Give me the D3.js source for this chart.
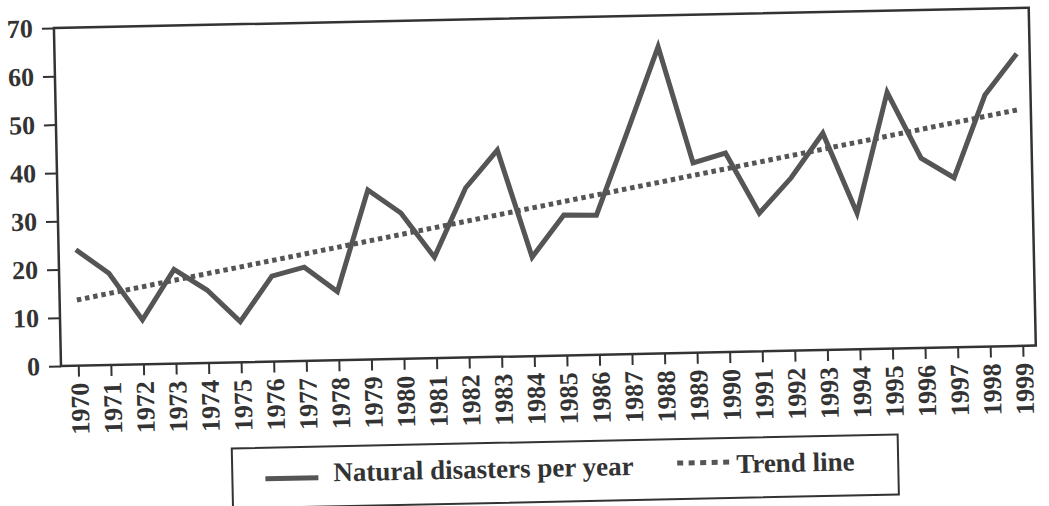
<html>
    <head>
        <title>Natural disasters per year</title>
        <script src="https://d3js.org/d3.v7.min.js"></script>
        <style>
        body { margin: 0; background: white; }
        .axis text {
            font-family: "Liberation Serif", "Times New Roman", serif;
            font-weight: bold;
            font-size: 26px;
            fill: #333;
        }
        .axis line { stroke: #333; stroke-width: 2; }
        .axis .domain { display: none; }
        </style>
    </head>
    <body>
        <svg id="chart" width="1049" height="506"></svg>

        <script>
            // data
            const years = [1970, 1971, 1972, 1973, 1974, 1975, 1976, 1977, 1978, 1979,
                           1980, 1981, 1982, 1983, 1984, 1985, 1986, 1987, 1988, 1989,
                           1990, 1991, 1992, 1993, 1994, 1995, 1996, 1997, 1998, 1999];
            const disasters = [24, 19, 9.2, 19.5, 15.1, 8.4, 17.7, 19.4, 14.2, 35.1,
                               30.2, 20.9, 35.1, 42.8, 20.5, 29.1, 28.9, 46, 63.5, 39.3,
                               41.2, 28.6, 35.8, 44.9, 28.2, 53.1, 39.3, 35.1, 52.1, 60.5];
            const trendYears = [1970, 1999];
            const trendValues = [13.6, 48.9];
            const yTicks = [0, 10, 20, 30, 40, 50, 60, 70];
            const legendLabels = ["Natural disasters per year", "Trend line"];

            const svg = d3.select("#chart");
            const margin = {top: 28, left: 61};
            const areaWidth = 975;
            const areaHeight = 338;
            const skew = -1.2; // the scan is slightly tilted
            const pivot = `${margin.left}, ${margin.top + areaHeight}`;

            const chartArea = svg.append("g")
                .attr("transform", `rotate(${skew}, ${pivot}) translate(${margin.left},${margin.top})`);

            const xScale = d3.scaleLinear()
                .domain([1969.47, 1999.4])
                .range([0, areaWidth]);

            const yScale = d3.scaleLinear()
                .domain([0, 70])
                .range([areaHeight, 0]);

            // axes
            chartArea.append("g")
                .attr("class", "axis")
                .call(d3.axisLeft(yScale).tickValues(yTicks).tickSize(12).tickPadding(9));

            const bottom = chartArea.append("g")
                .attr("class", "axis")
                .attr("transform", `translate(0,${areaHeight})`)
                .call(d3.axisBottom(xScale).tickValues(years).tickSize(11).tickFormat(d3.format("d")));

            bottom.selectAll("text")
                .attr("transform", "rotate(-90)")
                .attr("x", -17)
                .attr("y", 0)
                .attr("dy", "0.36em")
                .attr("text-anchor", "end");

            // frame
            chartArea.append("rect")
                .attr("x", 0)
                .attr("y", 0)
                .attr("width", areaWidth)
                .attr("height", areaHeight)
                .attr("fill", "none")
                .attr("stroke", "#333")
                .attr("stroke-width", 2.5);

            // trend line
            const trendData = trendYears.map((y, i) => ({year: y, value: trendValues[i]}));
            chartArea.append("path")
                .datum(trendData)
                .attr("fill", "none")
                .attr("stroke", "#555")
                .attr("stroke-width", 5)
                .attr("stroke-dasharray", "4.5,3.8")
                .attr("d", d3.line().x(d => xScale(d.year)).y(d => yScale(d.value)));

            // disasters line
            const lineData = years.map((y, i) => ({year: y, value: disasters[i]}));
            chartArea.append("path")
                .datum(lineData)
                .attr("fill", "none")
                .attr("stroke", "#555")
                .attr("stroke-width", 5)
                .attr("stroke-linejoin", "miter")
                .attr("d", d3.line().x(d => xScale(d.year)).y(d => yScale(d.value)));

            // LEGEND
            const legend = svg.append("g")
                .attr("transform", `rotate(${skew}, ${pivot}) translate(230,452)`);

            legend.append("rect")
                .attr("x", 0)
                .attr("y", 0)
                .attr("width", 666)
                .attr("height", 60)
                .attr("fill", "white")
                .attr("stroke", "#333")
                .attr("stroke-width", 2);

            legend.append("line")
                .attr("x1", 33).attr("x2", 86)
                .attr("y1", 31).attr("y2", 31)
                .attr("stroke", "#555")
                .attr("stroke-width", 5);

            legend.append("line")
                .attr("x1", 445).attr("x2", 502)
                .attr("y1", 24).attr("y2", 24)
                .attr("stroke", "#555")
                .attr("stroke-width", 5)
                .attr("stroke-dasharray", "6,5.5");

            legend.selectAll("text.label")
                .data(legendLabels)
                .join("text")
                .attr("class", "label")
                .attr("x", (d, i) => i == 0 ? 101 : 504)
                .attr("y", 35)
                .attr("font-family", "Liberation Serif, Times New Roman, serif")
                .attr("font-weight", "bold")
                .attr("font-size", 27)
                .attr("fill", "#333")
                .text(d => d);
        </script>
    </body>
</html>
